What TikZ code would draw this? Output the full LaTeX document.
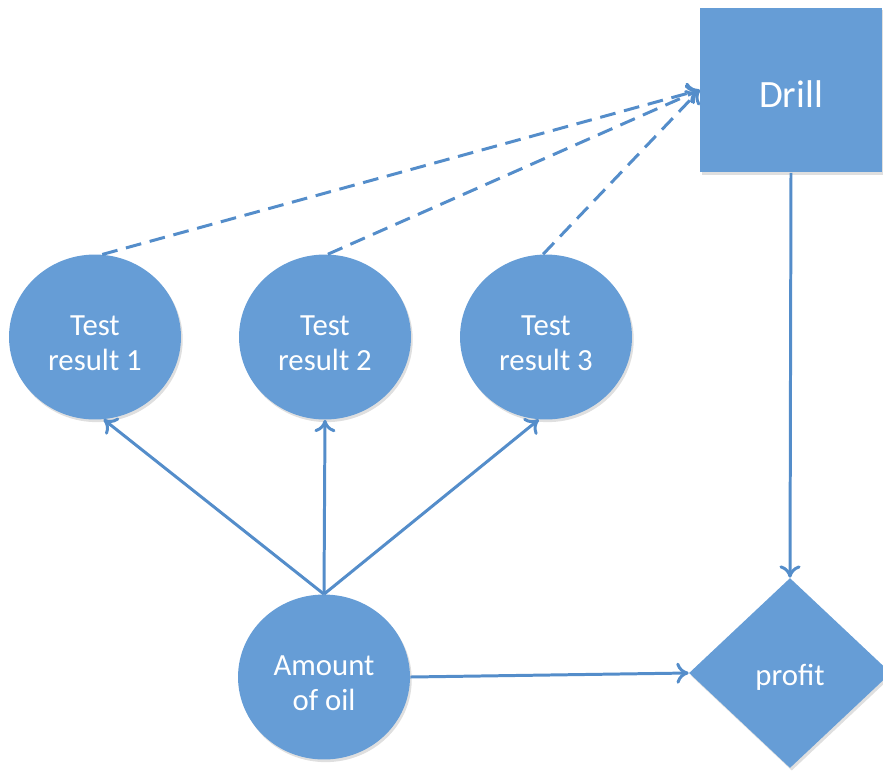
\documentclass[tikz,border=0pt]{standalone}
\usepackage{fontspec}
\setmainfont{Carlito}
\usepackage{tikz}
\usetikzlibrary{shapes.geometric,arrows.meta,shadows}
\definecolor{nodeblue}{RGB}{102,157,214}
\definecolor{edgeblue}{RGB}{84,141,202}
\tikzstyle{shade}=[drop shadow={opacity=0.25,shadow xshift=1pt,shadow yshift=-1.5pt}]
\tikzstyle{chance}=[ellipse,fill=nodeblue,text=white,shade,minimum width=3.44cm,minimum height=3.3cm,inner sep=0pt,align=center,text height=38.8pt,font=\fontsize{17.5}{20}\selectfont]
\tikzstyle{decision}=[rectangle,fill=nodeblue,text=white,shade,minimum width=3.64cm,minimum height=3.3cm,inner sep=0pt,text height=19.5pt,font=\fontsize{22}{26}\selectfont]
\tikzstyle{value}=[diamond,fill=nodeblue,text=white,shade,minimum width=4.04cm,minimum height=3.8cm,inner sep=0pt,text height=17.5pt,font=\fontsize{17.5}{20}\selectfont]
\tikzstyle{line} = [draw, edgeblue, line width=1.7pt, -{To[length=7pt,width=12pt]}]
\tikzstyle{info} = [line, dash pattern=on 9pt off 5pt]

\begin{document}
\begin{tikzpicture}[x=0.02cm,y=-0.02cm]
  \useasboundingbox (0,0) rectangle (883,772);
  \node[decision] (drill)  at (791,90)  {Drill};
  \node[chance]   (test1)  at (95,337)  {Test\\result 1};
  \node[chance]   (test2)  at (325,337) {Test\\result 2};
  \node[chance]   (test3)  at (546,337) {Test\\result 3};
  \node[chance]   (oil)    at (324,677) {Amount\\of oil};
  \node[value]    (profit) at (790,673) {profit};
  % information arcs
  \path [info] (test1.85) -- (drill.west);
  \path [info] (test2.88) -- (drill.west);
  \path [info] (test3.92) -- (drill.west);
  % influence arcs
  \path [line] (oil.north) -- (test1.-84);
  \path [line] (oil.north) -- (test2.south);
  \path [line] (oil.north) -- (test3.-95);
  \path [line] (oil.east) -- (profit.west);
  \path [line] (drill.south) -- (profit.north);
\end{tikzpicture}
\end{document}
